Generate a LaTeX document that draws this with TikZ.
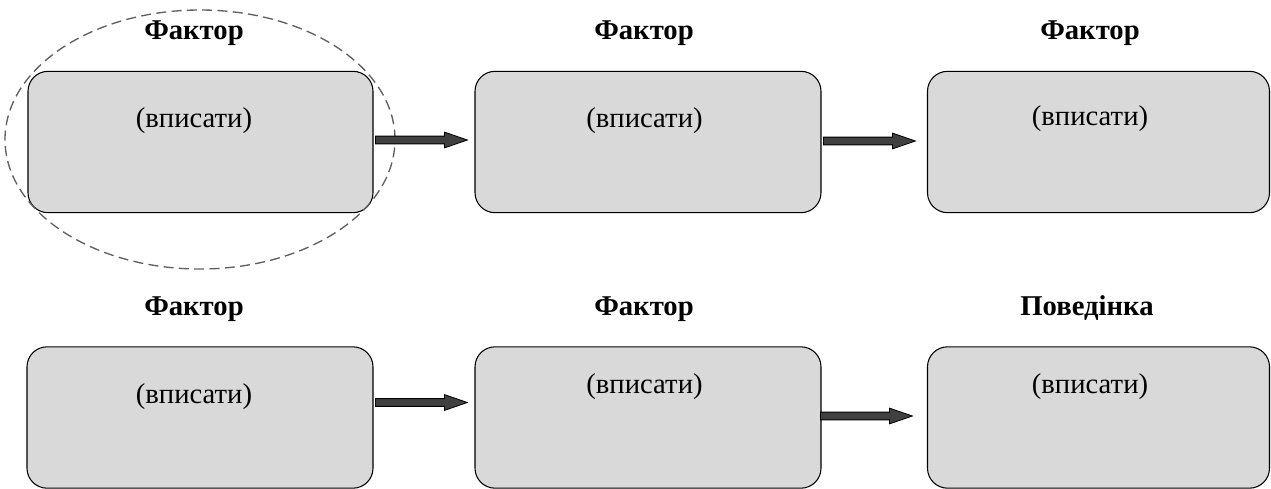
\documentclass[tikz,border=0pt]{standalone}
\usepackage{fontspec}
\setmainfont{Liberation Serif}
\usetikzlibrary{shapes.arrows,shapes.geometric}
\definecolor{boxfill}{HTML}{D9D9D9}
\definecolor{arrowfill}{HTML}{404040}
\definecolor{ellgray}{HTML}{5F5F5F}
\tikzset{
  factorbox/.style={draw=black, line width=0.8pt, fill=boxfill, rounded corners=15pt,
    inner sep=0pt, minimum height=106pt},
  titletext/.style={anchor=base, inner sep=0pt, font=\fontsize{21.5}{25}\selectfont\bfseries},
  filltext/.style={inner sep=0pt, font=\fontsize{21.5}{25}\selectfont},
  blockarrow/.style={single arrow, draw=black, line width=0.6pt, fill=arrowfill,
    inner sep=2.6pt, single arrow head extend=3pt, single arrow tip angle=38,
    minimum height=69pt, anchor=tail},
  focusring/.style={draw=ellgray, line width=1pt, dash pattern=on 7.5pt off 4pt}
}
\begin{document}
\begin{tikzpicture}[x=0.75pt, y=-0.75pt]
\useasboundingbox (0,0) rectangle (1271,489);
% boxes
\node[factorbox, minimum width=345*0.75pt] (b1) at (200.5,142) {};
\node[factorbox, minimum width=346*0.75pt] (b2) at (648,142) {};
\node[factorbox, minimum width=342*0.75pt] (b3) at (1098.5,142) {};
\node[factorbox, minimum width=346*0.75pt] (b4) at (200,417.5) {};
\node[factorbox, minimum width=346*0.75pt] (b5) at (648,417.5) {};
\node[factorbox, minimum width=342*0.75pt] (b6) at (1098.5,417.5) {};
% dashed ellipse
\node[focusring, ellipse, inner sep=0pt, minimum width=390*0.75pt, minimum height=259*0.75pt] (ring) at (200,139.5) {};
% titles
\node[titletext] (t1) at (194,39) {Фактор};
\node[titletext] (t2) at (644,39) {Фактор};
\node[titletext] (t3) at (1090,39) {Фактор};
\node[titletext] (t4) at (194,315) {Фактор};
\node[titletext] (t5) at (644,315) {Фактор};
\node[titletext] (t6) at (1087,315) {Поведінка};
% fill-in texts
\node[filltext] (f1) at (194,121) {(вписати)};
\node[filltext] (f2) at (644.5,121) {(вписати)};
\node[filltext] (f3) at (1090,119) {(вписати)};
\node[filltext] (f4) at (194,397) {(вписати)};
\node[filltext] (f5) at (644.5,387) {(вписати)};
\node[filltext] (f6) at (1090,387) {(вписати)};
% block arrows
\node[blockarrow] (a1) at (375,140) {};
\node[blockarrow] (a2) at (823,141) {};
\node[blockarrow] (a3) at (375,402.5) {};
\node[blockarrow] (a4) at (820,416) {};
\end{tikzpicture}
\end{document}
